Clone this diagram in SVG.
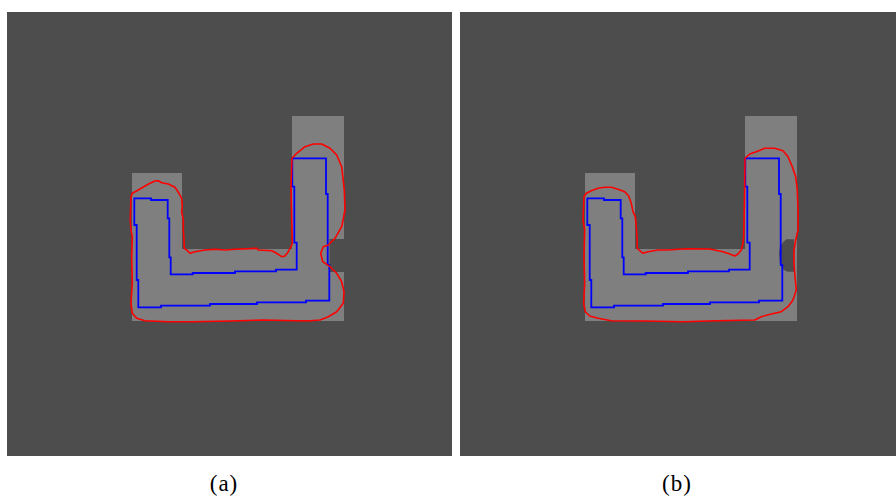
<svg xmlns="http://www.w3.org/2000/svg" width="896" height="497" viewBox="0 0 896 497">
<style>
.bg{fill:#4d4d4d}
.obj{fill:#7f7f7f}
.hole{fill:#4d4d4d}
.blue{fill:none;stroke:#0000ff;stroke-width:1.8;stroke-linejoin:miter}
.red{fill:none;stroke:#ff0000;stroke-width:1.6;stroke-linejoin:round}
.lbl{font-family:"Liberation Serif","DejaVu Serif",serif;font-size:23px;fill:#000;text-anchor:middle;letter-spacing:1px}
</style>
<defs>
<polygon id="bluepath" class="blue" points="134.3,198.3 151,198.3 151,200 167.7,200 167.7,218.3 169.3,218.3 169.3,257.3 170.7,257.3 170.7,274.3 192.7,274.3 192.7,273 235,273 235,271.3 276,271.3 276,269.7 296.7,269.7 296.7,242.7 294.3,242.7 294.3,186.7 292.3,186.7 292.3,158.3 326,158.3 326,194 327.7,194 327.7,265 329.3,265 329.3,300.7 306,300.7 306,302.3 257,302.3 257,304 210,304 210,305.7 161,305.7 161,307.3 138.3,307.3 138.3,280 136.7,280 136.7,225 134.3,225"/>
</defs>
<rect width="896" height="497" fill="#ffffff"/>
<g id="panel-a">
<rect class="bg" x="7" y="12" width="445" height="444"/>
<path class="obj" d="M132,173 H182 V249 H292 V116 H344 V239 H329.5 V272 H344 V321 H132 Z"/>
<use href="#bluepath"/>
<path class="red" d="M131,196.7 L132.3,193.3 L138.3,190 L145,186 L150,183.3 L155,181 L158.3,180.7 L161.7,182.7 L168.3,184 L175,187.3 L179,193.3 L181.7,198.3 L182.3,206.7 L181.7,211.7 L183.3,220 L183.3,230 L184,240 L184.3,248.3 L186.7,250 L190,253.3 L195,251.7 L205,250 L215,249.3 L225,250 L235,249.3 L256.7,248.3 L258.3,250 L271.7,250.7 L276.7,253.3 L281.7,256.7 L285,256 L288.3,251.7 L291,246.7 L292.3,243.3 L291.7,220 L291,186.7 L292,158.3 L296.7,153.3 L305,146.7 L313.3,144 L321.7,144 L330,148.3 L336.7,155 L341.7,166.7 L344.3,190 L345,210 L341.7,226.7 L335,238.3 L328.3,245 L323.3,246.7 L320.7,253.3 L322.7,261.7 L330,266.7 L336.7,273.3 L341.7,281.7 L344,291.7 L343.3,303.3 L336.7,311.7 L328.3,316.7 L320,320 L310,320.7 L296.7,320.7 L263.3,320 L230,321 L191.7,321.7 L168.3,321.7 L145,320.7 L136.7,318.3 L132.3,313.3 L131,303.3 L132.3,283.3 L131.7,256.7 L132.3,236.7 L131,230 L130.3,220 Z"/>
<text class="lbl" x="224" y="491">(a)</text>
</g>
<g id="panel-b">
<rect class="bg" x="460" y="12" width="436" height="444"/>
<path class="obj" d="M585,173 H635 V249 H745 V116 H797 V321 H585 Z"/>
<path class="hole" d="M786.3,239.3 L794,239.3 L794,271.7 L788,271.7 Q782,270.5 780,264 L779,253 Q779.5,244.5 786.3,239.3 Z"/>
<use href="#bluepath" transform="translate(453,0)"/>
<path class="red" d="M584,196.7 L586.3,193.3 L591.3,190.7 L598,188.3 L604.7,187.3 L611.3,187.3 L618,189.3 L624.7,191.7 L628.7,196 L631.3,203.3 L633,211.7 L635.3,216.7 L636.3,226.7 L637,236.7 L637.3,248.3 L639.7,250.7 L643,253.3 L648,251.7 L658,250 L668,250 L678,249.3 L688,248.7 L709.7,249 L723,251.7 L729.7,254 L734.7,256 L738,254 L741.3,250 L743,243.3 L743.7,236.7 L744.3,210 L744.7,186.7 L745,158.3 L749.7,154 L756.3,151.7 L764.7,148.3 L774.7,148.3 L783,150.7 L788,156.7 L792.3,166.7 L795.7,176.7 L797.3,190 L798,210 L798,230 L795.7,240 L794,250 L794,263.3 L794.7,273.3 L796.3,290 L793,300 L788,306.7 L781.3,311.7 L771.3,314 L761.3,316.7 L754.7,320 L716.3,320.7 L683,321.7 L644.7,321 L611.3,320.7 L598,318.3 L589.7,316 L585.3,311.7 L583.7,303.3 L584.7,283.3 L584,256.7 L584.7,230 L583,220 Z"/>
<text class="lbl" x="677" y="491">(b)</text>
</g>
</svg>
